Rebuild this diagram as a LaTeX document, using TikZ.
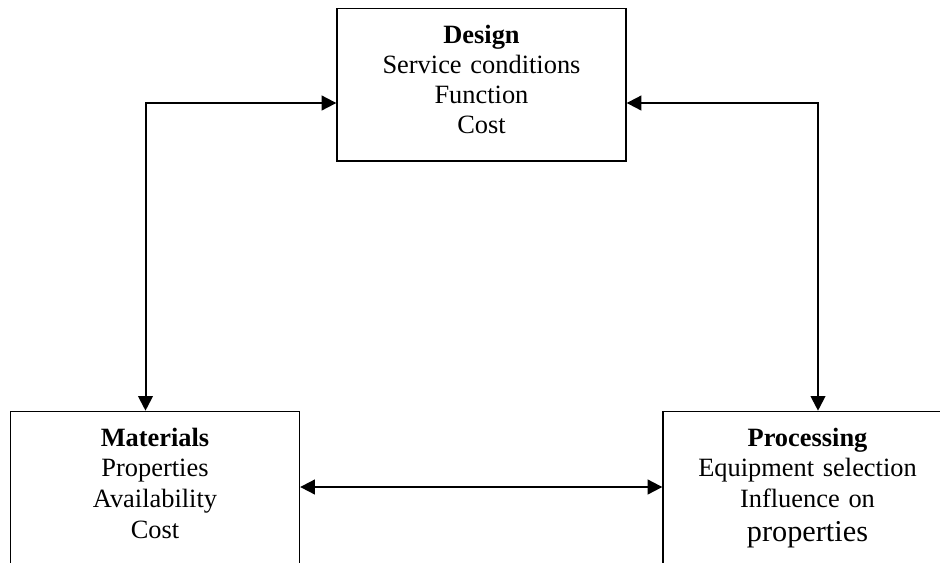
\documentclass[tikz,border=0pt]{standalone}
\usepackage{fontspec}
\setmainfont{Liberation Serif}
\usetikzlibrary{arrows.meta}
\newcommand{\topstrut}{\rule{0pt}{16pt}}
\newcommand{\botstrut}[1]{\rule[-#1]{0pt}{#1}}
\begin{document}
\begin{tikzpicture}[x=0.75pt,y=-0.75pt,
  box/.style={draw, line width=1pt, anchor=north, inner xsep=0pt, inner ysep=10pt,
    text width=216.75pt, align=center},
  topfont/.style={font=\fontsize{19.8}{22.6}\selectfont},
  lowfont/.style={font=\fontsize{19.8}{23.2}\selectfont},
  link/.style={line width=1.5pt,
    {Triangle[length=11pt,width=11pt]}-{Triangle[length=11pt,width=11pt]}}]
\useasboundingbox (0,0) rectangle (940,562);
\clip (0,0) rectangle (940,562);

% the three boxes
\node[box, topfont] (design) at (481.5,8)
  {\topstrut\textbf{Design}\\Service conditions\\Function\\Cost\botstrut{10.5pt}};
\node[box, lowfont] (materials) at (155,410.7)
  {\topstrut\textbf{Materials}\\Properties\\Availability\\Cost\botstrut{70pt}};
\node[box, lowfont] (processing) at (807.5,410.7)
  {\topstrut\textbf{Processing}\\Equipment selection\\Influence on\\[2pt]{\fontsize{22.7}{26}\selectfont properties}\botstrut{70pt}};

% routing points of the connectors
\coordinate (lcorner) at (145.5,103);
\coordinate (rcorner) at (818,103);
\coordinate (mid) at (480,487);

% two-way links
\draw[link] (design.west |- lcorner) -| (materials.north -| lcorner);
\draw[link] (design.east |- rcorner) -| (processing.north -| rcorner);
\draw[link] (materials.east |- mid) -- (processing.west |- mid);
\end{tikzpicture}
\end{document}
